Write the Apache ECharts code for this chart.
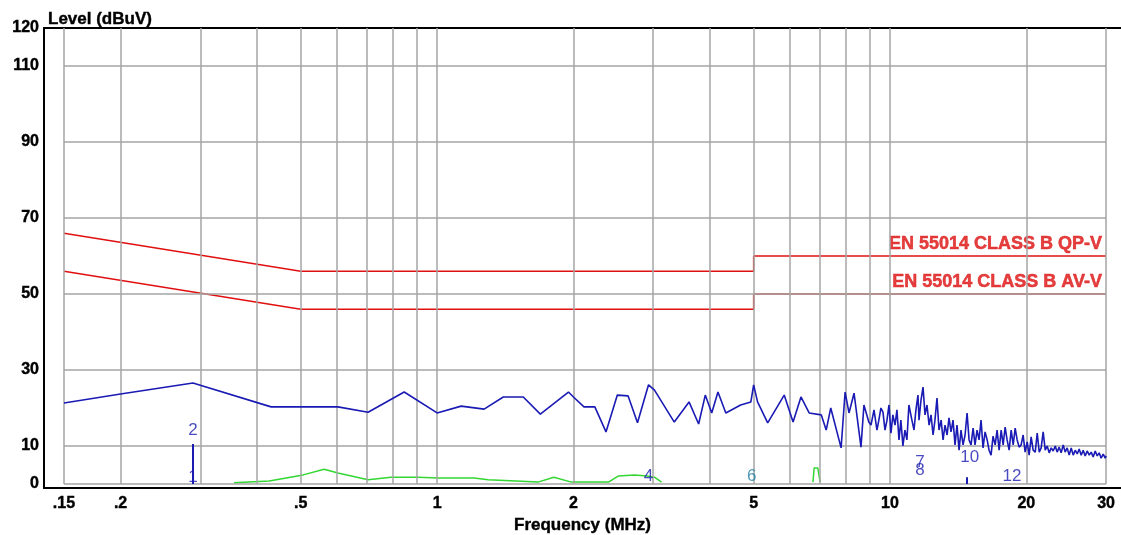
<!DOCTYPE html>
<html><head><meta charset="utf-8">
<script src="https://cdn.jsdelivr.net/npm/echarts@6/dist/echarts.min.js"></script>
<style>html,body{margin:0;padding:0;background:#fff}#c{width:1121px;height:535px}</style>
</head><body><div id="c"></div>
<script>
// ---- data ----
const gridFreqs = [0.15,0.2,0.3,0.4,0.5,0.6,0.7,0.8,0.9,1,2,3,4,5,6,7,8,9,10,20,30];
const gridLevels = [0,10,30,50,70,90,110];
const xTickFreqs = [0.15,0.2,0.5,1,2,5,10,20,30];
const xTickLabels = ['.15','.2','.5','1','2','5','10','20','30'];
const yTickValues = [0,10,30,50,70,90,110,120];

const qpFreq = [0.15,0.5,5,5,30];
const qpLevel = [66,56,56,60,60];
const avFreq = [0.15,0.5,5,5,30];
const avLevel = [56,46,46,50,50];
const limitNames = ['EN 55014 CLASS B QP-V','EN 55014 CLASS B AV-V'];

const blueFreq = [0.15,0.2,0.289,0.43,0.604,0.704,0.846,1.0,1.13,1.27,1.40,1.55,1.69,1.95,2.0,2.11,2.23,2.36,2.50,2.64,2.77,2.93,3.02,3.34,3.60,3.78,3.91,4.04,4.17,4.34,4.68,4.93,5.0,5.10,5.37,5.84,6.11,6.36,6.63,7.05,7.23,7.40,7.80,7.96,8.12,8.33,8.63,8.76,8.98,
9.08,9.22,9.36,9.45,9.55,9.65,9.75,9.85,9.95,10.05,10.15,10.26,10.36,10.47,10.57,10.68,10.79,10.90,11.01,11.18,11.30,11.41,11.53,11.59,11.71,11.83,11.95,12.07,12.20,12.32,12.45,12.57,12.70,12.83,12.97,13.10,13.23,13.37,13.50,13.64,13.78,13.92,14.06,14.21,14.35,14.50,14.65,14.80,14.95,15.10,15.26,15.41,15.57,15.73,15.89,16.05,16.22,16.39,16.55,16.72,16.89,17.07,17.24,17.42,17.60,17.78,17.96,18.14,18.33,18.52,18.71,18.90,19.09,19.29,19.48,19.68,19.88,20.09,20.29,20.50,20.71,20.93,21.14,21.36,21.57,21.79,22.02,22.24,22.47,22.70,22.93,23.17,23.40,23.64,23.88,24.13,24.37,24.62,24.87,25.13,25.39,25.65,25.91,26.17,26.44,26.71,26.98,27.26,27.54,27.82,28.10,28.39,28.68,28.97,29.27,29.57,29.87,30.0];
const blueLevel = [21.3,23.7,26.6,20.3,20.3,18.9,24.2,18.7,20.5,19.7,22.9,22.9,18.4,24.2,22.9,20.3,20.3,13.7,23.4,23.2,16.1,26.1,24.7,16.3,21.6,15.8,23.4,18.7,24.2,18.7,20.8,21.6,26.1,21.6,16.1,23.4,16.3,22.9,18.7,18.2,14.2,20.0,9.5,24.2,18.7,23.9,9.7,20.8,16.3,
15.5,19.5,14.2,16.8,20.0,18.9,14.2,16.8,20.8,13.4,18.2,15.5,19.5,11.6,16.8,10.0,14.2,11.6,20.8,16.8,14.2,19.5,23.4,16.8,22.1,25.5,18.2,20.8,15.5,18.2,12.9,16.8,22.6,14.2,16.8,11.6,15.5,12.9,17.4,13.7,16.8,10.3,15.5,8.9,14.2,10.3,12.9,18.7,11.6,10.3,14.7,10.3,14.2,11.6,16.8,9.5,13.7,11.6,8.9,7.6,12.6,10.3,14.2,8.9,14.2,10.3,15.0,11.6,8.9,14.2,10.3,14.7,11.6,9.7,10.3,12.9,8.4,11.1,7.6,12.4,8.9,8.4,13.4,8.4,9.5,13.7,8.9,10.0,8.2,9.5,8.7,10.0,8.4,9.7,8.2,10.3,8.4,9.5,7.6,9.5,7.6,8.9,7.9,9.2,7.6,8.9,7.4,8.7,7.6,8.4,7.1,8.7,7.4,8.2,6.8,7.9,6.8,7.4];

const greenFreq = [0.356,0.426,0.506,0.563,0.604,0.704,0.791,0.908,1.005,1.207,1.296,1.67,1.81,1.98,2.39,2.51,2.73,2.91,3.02,3.13,4.5,6.76,6.80,6.93,7.01];
const greenLevel = [0.3,0.8,2.4,3.9,2.9,1.1,1.8,1.8,1.6,1.6,1.1,0.5,1.8,0.5,0.5,2.1,2.4,2.1,1.8,0.5,null,0.5,4.2,4.2,0.5];

const markerFreq = [0.289,0.289,2.93,4.95,11.65,11.65,15.0,18.6];
const markerLevel = [14.0,1.8,2.1,2.1,5.6,3.6,7.1,2.1];
const markerText = ['2','1','4','6','7','8','10','12'];
const markerLineFreq = [0.289,14.8];
const markerLineTop = [10.5,1.8];

// ---- layout helpers ----
const L = Math.log10;
const FMIN = 0.1355, FMAX = 32.37, YMIN = -1.05, YMAX = 120;
const FONT = 'Arial, "Liberation Sans", sans-serif';
const pairs = (fs, ls) => fs.map((f,i) => [L(f), ls[i] == null ? '-' : ls[i]]);

const chart = echarts.init(document.getElementById('c'), null, {renderer:'canvas'});

const gridLineData = [];
gridFreqs.forEach(f => gridLineData.push([{coord:[L(f),0]},{coord:[L(f),120]}]));
gridLevels.forEach(v => gridLineData.push([{coord:[L(0.15),v]},{coord:[L(30),v]}]));

const markerLineData = markerLineFreq.map((f,i) => [{coord:[L(f),0]},{coord:[L(f),markerLineTop[i]]}]);

const axisBase = {
  type:'value', min:L(FMIN), max:L(FMAX),
  splitLine:{show:false}, axisTick:{show:false},
  axisLine:{show:true, onZero:false, lineStyle:{color:'#000', width:2}}
};

const MARK_BLUE = '#1c1cb0';
const RED = '#dd0f0f';
const boldBlack = {fontFamily:FONT, fontWeight:'bold', color:'#000', textBorderColor:'#000', textBorderWidth:0.4};

chart.setOption({
  animation:false,
  backgroundColor:'#fff',
  title:{text:'Level (dBuV)', left:43, top:6,
    textStyle:Object.assign({fontSize:17}, boldBlack)},
  grid:{left:44, right:0, top:28, bottom:47, containLabel:false, outerBoundsMode:'none'},
  xAxis:[
    Object.assign({}, axisBase, {
      position:'bottom',
      name:'Frequency (MHz)', nameLocation:'middle', nameGap:27,
      nameTextStyle:Object.assign({fontSize:17}, boldBlack),
      axisLabel:Object.assign({show:true, customValues:xTickFreqs.map(L), margin:8, showMinLabel:true, showMaxLabel:true,
        fontSize:16,
        formatter:(v)=>{ let best=0; xTickFreqs.forEach((f,i)=>{ if(Math.abs(L(f)-v)<Math.abs(L(xTickFreqs[best])-v)) best=i; }); return xTickLabels[best]; }}, boldBlack)
    }),
    Object.assign({}, axisBase, {position:'top', axisLabel:{show:false}})
  ],
  yAxis:{
    type:'value', min:YMIN, max:YMAX,
    splitLine:{show:false}, axisTick:{show:false},
    axisLine:{show:true, onZero:false, lineStyle:{color:'#000', width:2}},
    axisLabel:Object.assign({show:true, customValues:yTickValues, margin:5, fontSize:16}, boldBlack)
  },
  series:[
    {name:'grid', type:'line', z:1, data:[[L(0.15),0]], showSymbol:false, symbol:'none',
     lineStyle:{width:0, opacity:0}, silent:true,
     markLine:{silent:true, symbol:['none','none'], label:{show:false}, animation:false,
       lineStyle:{color:'#a4a4a4', width:1.5, type:'solid'}, emphasis:{disabled:true},
       data:gridLineData}},
    {name:'QP', type:'line', z:3, data:pairs(qpFreq,qpLevel), showSymbol:false, symbol:'none',
     lineStyle:{color:'#e01010', width:1.5}},
    {name:'AV', type:'line', z:3, data:pairs(avFreq,avLevel), showSymbol:false, symbol:'none',
     lineStyle:{color:'#e01010', width:1.5}},
    {name:'limitLabels', type:'scatter', z:4, symbolSize:0, silent:true,
     data:[[L(30),qpLevel[qpLevel.length-1]],[L(30),avLevel[avLevel.length-1]]],
     label:{show:true, position:'left', distance:4, offset:[0,-12],
       formatter:(p)=>limitNames[p.dataIndex],
       fontFamily:FONT, fontSize:18, fontWeight:'bold', color:RED,
       textBorderColor:RED, textBorderWidth:0.5}},
    {name:'peak', type:'line', z:5, data:pairs(blueFreq,blueLevel), showSymbol:false, symbol:'none',
     lineStyle:{color:'#1a1ab4', width:1.6}},
    {name:'avg', type:'line', z:4, data:pairs(greenFreq,greenLevel), showSymbol:false, symbol:'none',
     connectNulls:false, lineStyle:{color:'#33d633', width:1.5}},
    {name:'markers', type:'scatter', z:6, symbolSize:0, silent:true,
     data:pairs(markerFreq,markerLevel).map((v,i)=>markerText[i]==='6'?{value:v,label:{color:'#1f7fa6'}}:v),
     label:{show:true, position:'inside', formatter:(p)=>markerText[p.dataIndex],
       fontFamily:FONT, fontSize:17, color:MARK_BLUE},
     labelLayout:{hideOverlap:false},
     markLine:{silent:true, symbol:['none','none'], label:{show:false},
       lineStyle:{color:MARK_BLUE, width:2, type:'solid'}, data:markerLineData}}
  ]
});
</script></body></html>
